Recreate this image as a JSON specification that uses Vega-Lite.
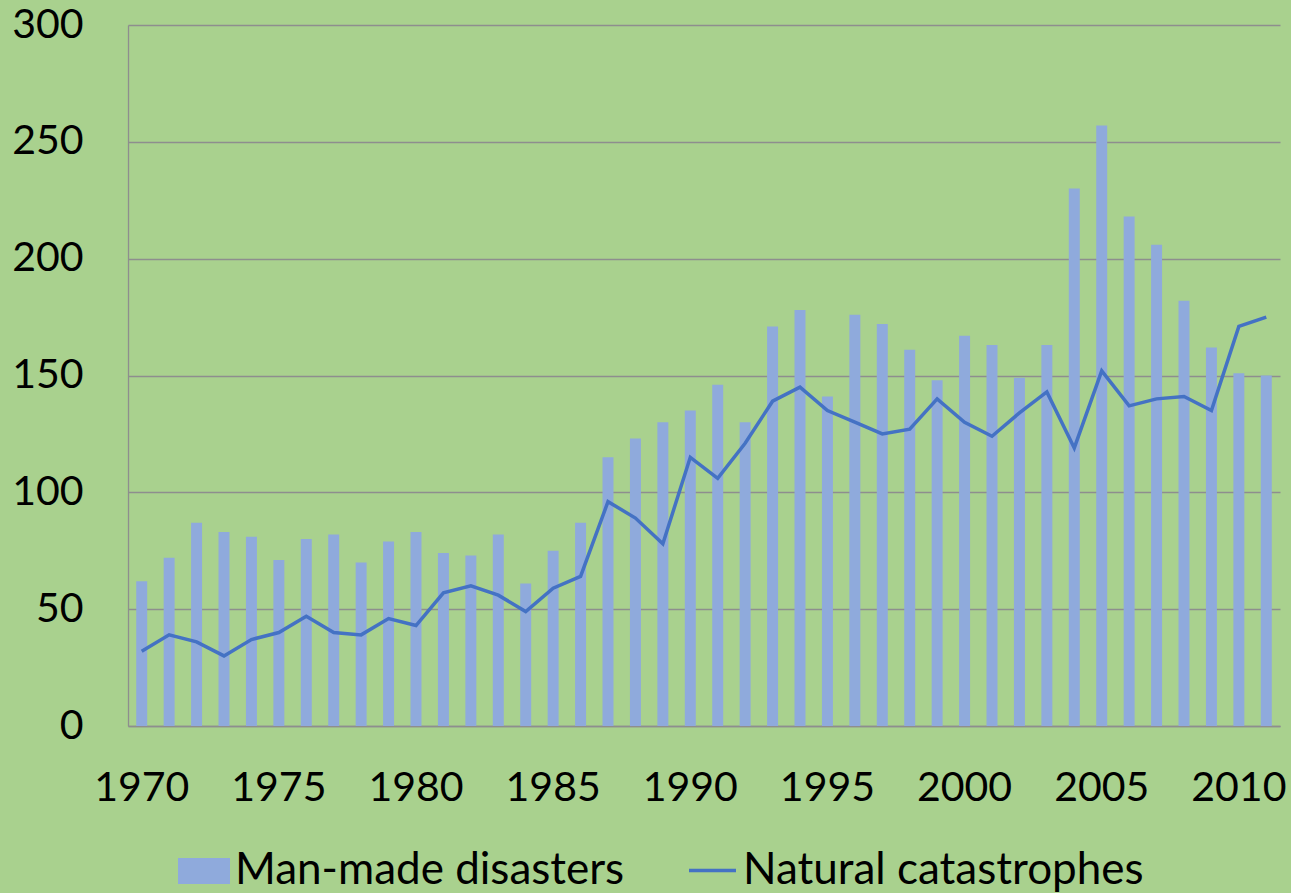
{
  "$schema": "https://vega.github.io/schema/vega-lite/v6.json",
  "autosize": {"type": "none"},
  "width": 1152,
  "height": 701,
  "padding": {"left": 128, "top": 25, "right": 11, "bottom": 167},
  "background": "#A9D18E",
  "config": {
    "view": {"stroke": null},
    "font": "Lato",
    "axis": {"labelFont": "Lato", "labelFontSize": 41, "labelColor": "#000000", "ticks": false, "title": null}
  },
  "data": {
    "values": [
      {"year": 1970, "manmade": 62, "natural": 32},
      {"year": 1971, "manmade": 72, "natural": 39},
      {"year": 1972, "manmade": 87, "natural": 36},
      {"year": 1973, "manmade": 83, "natural": 30},
      {"year": 1974, "manmade": 81, "natural": 37},
      {"year": 1975, "manmade": 71, "natural": 40},
      {"year": 1976, "manmade": 80, "natural": 47},
      {"year": 1977, "manmade": 82, "natural": 40},
      {"year": 1978, "manmade": 70, "natural": 39},
      {"year": 1979, "manmade": 79, "natural": 46},
      {"year": 1980, "manmade": 83, "natural": 43},
      {"year": 1981, "manmade": 74, "natural": 57},
      {"year": 1982, "manmade": 73, "natural": 60},
      {"year": 1983, "manmade": 82, "natural": 56},
      {"year": 1984, "manmade": 61, "natural": 49},
      {"year": 1985, "manmade": 75, "natural": 59},
      {"year": 1986, "manmade": 87, "natural": 64},
      {"year": 1987, "manmade": 115, "natural": 96},
      {"year": 1988, "manmade": 123, "natural": 89},
      {"year": 1989, "manmade": 130, "natural": 78},
      {"year": 1990, "manmade": 135, "natural": 115},
      {"year": 1991, "manmade": 146, "natural": 106},
      {"year": 1992, "manmade": 130, "natural": 121},
      {"year": 1993, "manmade": 171, "natural": 139},
      {"year": 1994, "manmade": 178, "natural": 145},
      {"year": 1995, "manmade": 141, "natural": 135},
      {"year": 1996, "manmade": 176, "natural": 130},
      {"year": 1997, "manmade": 172, "natural": 125},
      {"year": 1998, "manmade": 161, "natural": 127},
      {"year": 1999, "manmade": 148, "natural": 140},
      {"year": 2000, "manmade": 167, "natural": 130},
      {"year": 2001, "manmade": 163, "natural": 124},
      {"year": 2002, "manmade": 149, "natural": 134},
      {"year": 2003, "manmade": 163, "natural": 143},
      {"year": 2004, "manmade": 230, "natural": 119},
      {"year": 2005, "manmade": 257, "natural": 152},
      {"year": 2006, "manmade": 218, "natural": 137},
      {"year": 2007, "manmade": 206, "natural": 140},
      {"year": 2008, "manmade": 182, "natural": 141},
      {"year": 2009, "manmade": 162, "natural": 135},
      {"year": 2010, "manmade": 151, "natural": 171},
      {"year": 2011, "manmade": 150, "natural": 175}
    ]
  },
  "encoding": {
    "x": {
      "field": "year", "type": "ordinal",
      "scale": {"paddingInner": 0.6, "paddingOuter": 0.3},
      "axis": {
        "values": [1970, 1975, 1980, 1985, 1990, 1995, 2000, 2005, 2010],
        "labelAngle": 0, "labelPadding": 42,
        "domainColor": "#8E8E8E", "domainWidth": 1.3, "grid": false
      }
    }
  },
  "layer": [
    {
      "mark": {"type": "bar", "color": "#8FAADC"},
      "encoding": {
        "y": {
          "field": "manmade", "type": "quantitative",
          "scale": {"domain": [0, 300], "nice": false},
          "axis": {
            "values": [0, 50, 100, 150, 200, 250, 300],
            "labelPadding": 45, "grid": true, "gridColor": "#8E8E8E", "gridWidth": 1.3,
            "domainColor": "#8E8E8E", "domainWidth": 1.3
          }
        },
        "fill": {
          "datum": "Man-made disasters",
          "scale": {"range": ["#8FAADC"]},
          "legend": {
            "orient": "none", "legendX": 50, "legendY": 820, "title": null,
            "symbolType": "M-1,-0.5L1,-0.5L1,0.5L-1,0.5Z", "symbolSize": 2704,
            "symbolStrokeWidth": 0, "labelFontSize": 44, "labelFont": "Lato", "labelColor": "#000000",
            "labelOffset": 5, "labelLimit": 0, "padding": 0
          }
        }
      }
    },
    {
      "mark": {"type": "line", "color": "#4472C4", "strokeWidth": 3.5},
      "encoding": {
        "y": {"field": "natural", "type": "quantitative"},
        "stroke": {
          "datum": "Natural catastrophes",
          "scale": {"range": ["#4472C4"]},
          "legend": {
            "orient": "none", "legendX": 559, "legendY": 820, "title": null,
            "symbolType": "stroke", "symbolSize": 2209, "symbolStrokeWidth": 3.5,
            "labelFontSize": 44, "labelFont": "Lato", "labelColor": "#000000",
            "labelOffset": 5, "labelLimit": 0, "padding": 0
          }
        }
      }
    }
  ]
}
